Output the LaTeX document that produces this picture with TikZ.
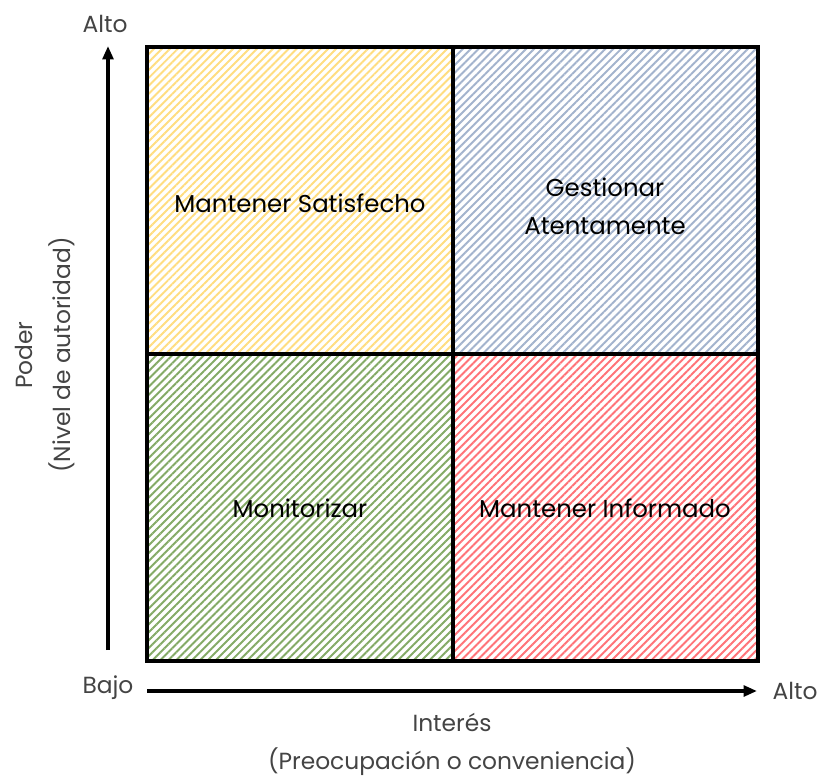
\documentclass[tikz,border=0pt]{standalone}
\usepackage{fontspec}
\setmainfont{Poppins}
\usetikzlibrary{patterns.meta,arrows.meta}
\definecolor{yel}{HTML}{FFDD80}
\definecolor{blu}{HTML}{A3B3CD}
\definecolor{grn}{HTML}{84AA66}
\definecolor{rd}{HTML}{FF7378}
\definecolor{lbl}{HTML}{444444}
\tikzset{
  quad/.style={pattern={Lines[angle=45,distance=4.2pt,line width=1.45pt]},pattern color=#1},
  qtext/.style={font=\fontsize{18.3}{28.5}\selectfont,text=black,align=center},
  atext/.style={font=\fontsize{17.5}{28.5}\selectfont,text=lbl,align=center},
  axis/.style={line width=2.6pt,-{Triangle[length=10pt,width=8pt]}},
}
\begin{document}
\begin{tikzpicture}[x=0.75pt,y=-0.75pt]
\useasboundingbox (0,0) rectangle (820,781);
\fill[white] (0,0) rectangle (820,781);
\fill[quad=yel] (147,47) rectangle (453,354);
\fill[quad=blu] (453,47) rectangle (758,354);
\fill[quad=grn] (147,354) rectangle (453,661);
\fill[quad=rd] (453,354) rectangle (758,661);
\draw[line width=3pt] (147,47) rectangle (758,661);
\draw[line width=3pt] (453,47) -- (453,661);
\draw[line width=3pt] (147,354) -- (758,354);
\node[qtext] (q1) at (300,203) {Mantener Satisfecho};
\node[qtext] (q2) at (605,206) {Gestionar\\Atentamente};
\node[qtext] (q3) at (300,508) {Monitorizar};
\node[qtext] (q4) at (605,508) {Mantener Informado};
\coordinate (vb) at (108,650);
\coordinate (vt) at (108,46);
\coordinate (hl) at (147,691);
\coordinate (hr) at (757,691);
\draw[axis] (vb) -- (vt);
\draw[axis] (hl) -- (hr);
\node[atext] (altoy) at (105,24) {Alto};
\node[atext] (bajo) at (108,688) {Bajo};
\node[atext] (altox) at (795,691) {Alto};
\node[atext] (int) at (452,744) {Interés\\(Preocupación o conveniencia)};
\node[atext,rotate=90] (pod) at (45,355) {Poder\\(Nivel de autoridad)};
\end{tikzpicture}
\end{document}
